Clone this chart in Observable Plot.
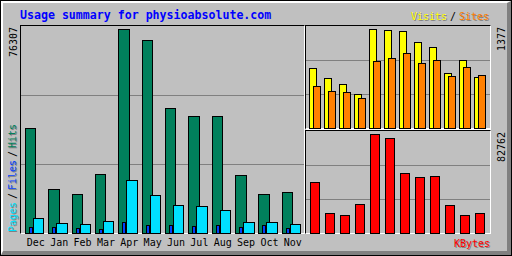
<!DOCTYPE html>
<html><head><meta charset="utf-8">
<script src="https://cdn.jsdelivr.net/npm/d3@7"></script>
<script src="https://cdn.jsdelivr.net/npm/@observablehq/plot@0.6"></script>
<style>
html,body{margin:0;padding:0;background:#fff;}
#frame{position:relative;width:512px;height:256px;overflow:hidden;background:#C0C0C0;}
#outer{position:absolute;left:0;top:0;width:512px;height:256px;box-sizing:border-box;border:1px solid #000;}
#bevel{position:absolute;left:1px;top:1px;width:510px;height:254px;box-sizing:border-box;border-top:2px solid #fff;border-left:2px solid #fff;border-right:4px solid #808080;border-bottom:4px solid #808080;}
.panel{position:absolute;background:#C0C0C0;border-top:1px solid #000;border-left:1px solid #000;border-right:1px solid #fff;border-bottom:1px solid #fff;}
.plot{position:absolute;}
</style></head>
<body>
<div id="frame">
  <div id="outer"></div>
  <div id="bevel"></div>
  <div class="panel" style="left:20px;top:25px;width:283px;height:207px;"></div>
  <div class="panel" style="left:305px;top:25px;width:184px;height:102px;border-bottom-width:2px;"></div>
  <div class="panel" style="left:305px;top:130px;width:184px;height:102px;"></div>
</div>
<script>
const months = ["Dec","Jan","Feb","Mar","Apr","May","Jun","Jul","Aug","Sep","Oct","Nov"];
const hits   = [39163, 16346, 14476, 21957, 76307, 72080, 46644, 43652, 43590, 21583, 14470, 15224];
const files  = [2244, 2244, 1758, 1384, 4002, 2880, 2880, 2506, 2880, 2132, 2880, 1758];
const pages  = [5499, 3628, 3254, 4376, 19712, 14102, 10361, 9987, 8491, 4002, 4002, 3254];
const visits = [833, 693, 610, 470, 1377, 1363, 1349, 1196, 1126, 763, 945, 707];
const sites  = [582, 512, 498, 414, 931, 972, 1042, 903, 945, 721, 847, 735];
const kbytes = [42513, 16519, 14842, 24065, 82762, 79408, 50060, 46706, 47544, 23227, 14842, 16519];
const maxHits = 76307, maxVisits = 1377, maxKBytes = 82762;
const title = "Usage summary for physioabsolute.com";
const leftLegend = ["Pages", "/", "Files", "/", "Hits"];
const rightLegend = ["Visits", "/", "Sites"];
const kbytesLabel = "KBytes";

const C = {hits:"#00805C", files:"#0040FF", pages:"#00E0FF", visits:"#FFFF00", sites:"#FF8000", kbytes:"#FF0000", grid:"#808080", shadow:"#808080"};
const rows = months.map((m, i) => ({i, month: m, hits: hits[i], files: files[i], pages: pages[i], visits: visits[i], sites: sites[i], kbytes: kbytes[i]}));
const bar = {stroke: "#000", strokeWidth: 1, shapeRendering: "crispEdges"};
const frame = document.getElementById("frame");
function place(el, left, top) { el.classList.add("plot"); el.style.left = left + "px"; el.style.top = top + "px"; frame.appendChild(el); }

// Main: hits / files / pages
const Dm = maxHits * 207 / 204;
const main = Plot.plot({
  width: 283, height: 230, marginLeft: 0, marginRight: 0, marginTop: 0, marginBottom: 23,
  x: {type: "linear", domain: [-0.184, 11.93], axis: null},
  y: {domain: [0, Dm], axis: null},
  style: {background: "transparent", overflow: "visible"},
  marks: [
    Plot.ruleY([Dm / 3, 2 * Dm / 3], {stroke: C.grid, shapeRendering: "crispEdges"}),
    Plot.rect(rows, {x1: d => d.i, x2: d => d.i + 0.45, y1: 0, y2: "hits", fill: C.hits, ...bar}),
    Plot.rect(rows, {x1: d => d.i + 0.171, x2: d => d.i + 0.3, y1: 0, y2: "files", fill: C.files, ...bar}),
    Plot.rect(rows, {x1: d => d.i + 0.342, x2: d => d.i + 0.792, y1: 0, y2: "pages", fill: C.pages, ...bar}),
    Plot.text(rows, {x: d => d.i + 0.43, y: 0, text: "month", dy: 12.5, lineAnchor: "bottom", fontFamily: "DejaVu Sans Mono", fontSize: 10, fill: "#000"})
  ]
});
place(main, 21, 26);

// Top right: visits / sites
const Dv = maxVisits * 102 / 98.7;
const tr = Plot.plot({
  width: 184, height: 102, margin: 0,
  x: {type: "linear", domain: [-0.22, 12.047], axis: null},
  y: {domain: [0, Dv], axis: null},
  style: {background: "transparent", overflow: "visible"},
  marks: [
    Plot.ruleY([Dv / 3, 2 * Dv / 3], {stroke: C.grid, shapeRendering: "crispEdges"}),
    Plot.rect(rows, {x1: d => d.i, x2: d => d.i + 0.467, y1: 0, y2: "visits", fill: C.visits, ...bar}),
    Plot.rect(rows, {x1: d => d.i + 0.267, x2: d => d.i + 0.733, y1: 0, y2: "sites", fill: C.sites, ...bar})
  ]
});
place(tr, 306, 26);

// Bottom right: kbytes
const Dk = maxKBytes * 102 / 98.7;
const br = Plot.plot({
  width: 184, height: 102, margin: 0,
  x: {type: "linear", domain: [-0.22, 12.047], axis: null},
  y: {domain: [0, Dk], axis: null},
  style: {background: "transparent", overflow: "visible"},
  marks: [
    Plot.ruleY([Dk / 3, 2 * Dk / 3], {stroke: C.grid, shapeRendering: "crispEdges"}),
    Plot.rect(rows, {x1: d => d.i + 0.067, x2: d => d.i + 0.647, y1: 0, y2: "kbytes", fill: C.kbytes, ...bar})
  ]
});
place(br, 306, 131);

// Labels overlay
const svg = d3.create("svg").attr("width", 512).attr("height", 256)
  .style("position", "absolute").style("left", "0px").style("top", "0px")
  .style("font-family", "'DejaVu Sans Mono', monospace").style("font-size", "10px");
svg.append("text").attr("x", 20).attr("y", 18.5).attr("fill", "#0000FF")
  .attr("font-weight", "bold").style("font-size", "11.6px").text(title);

function label(t, x, y, color, opts = {}) {
  const rot = opts.rot ? " rotate(-90)" : "";
  const anchor = opts.anchor || "start";
  if (opts.shadow) svg.append("text").attr("transform", `translate(${x + 1},${y + 1})${rot}`).attr("text-anchor", anchor).attr("fill", C.shadow).text(t);
  svg.append("text").attr("transform", `translate(${x},${y})${rot}`).attr("text-anchor", anchor).attr("fill", color).text(t);
}
// max labels
label(String(maxHits), 17.3, 27, "#000", {rot: true, anchor: "end"});
label(String(maxVisits), 504.5, 27, "#000", {rot: true, anchor: "end"});
label(String(maxKBytes), 504.5, 132, "#000", {rot: true, anchor: "end"});
// left legend (vertical)
const leftCols = [C.pages, "#000", C.files, "#000", C.hits];
const leftStarts = [232, 199, 190, 157, 148];
leftLegend.forEach((t, k) => label(t, 16, leftStarts[k], leftCols[k], {rot: true, shadow: k % 2 === 0}));
// right legend
const rightCols = [C.visits, "#000", C.sites];
const rightX = [411, 450, 459];
rightLegend.forEach((t, k) => label(t, rightX[k], 20, rightCols[k], {shadow: k % 2 === 0}));
label(kbytesLabel, 490, 246.5, C.kbytes, {anchor: "end", shadow: true});
frame.appendChild(svg.node());
</script>
</body></html>
